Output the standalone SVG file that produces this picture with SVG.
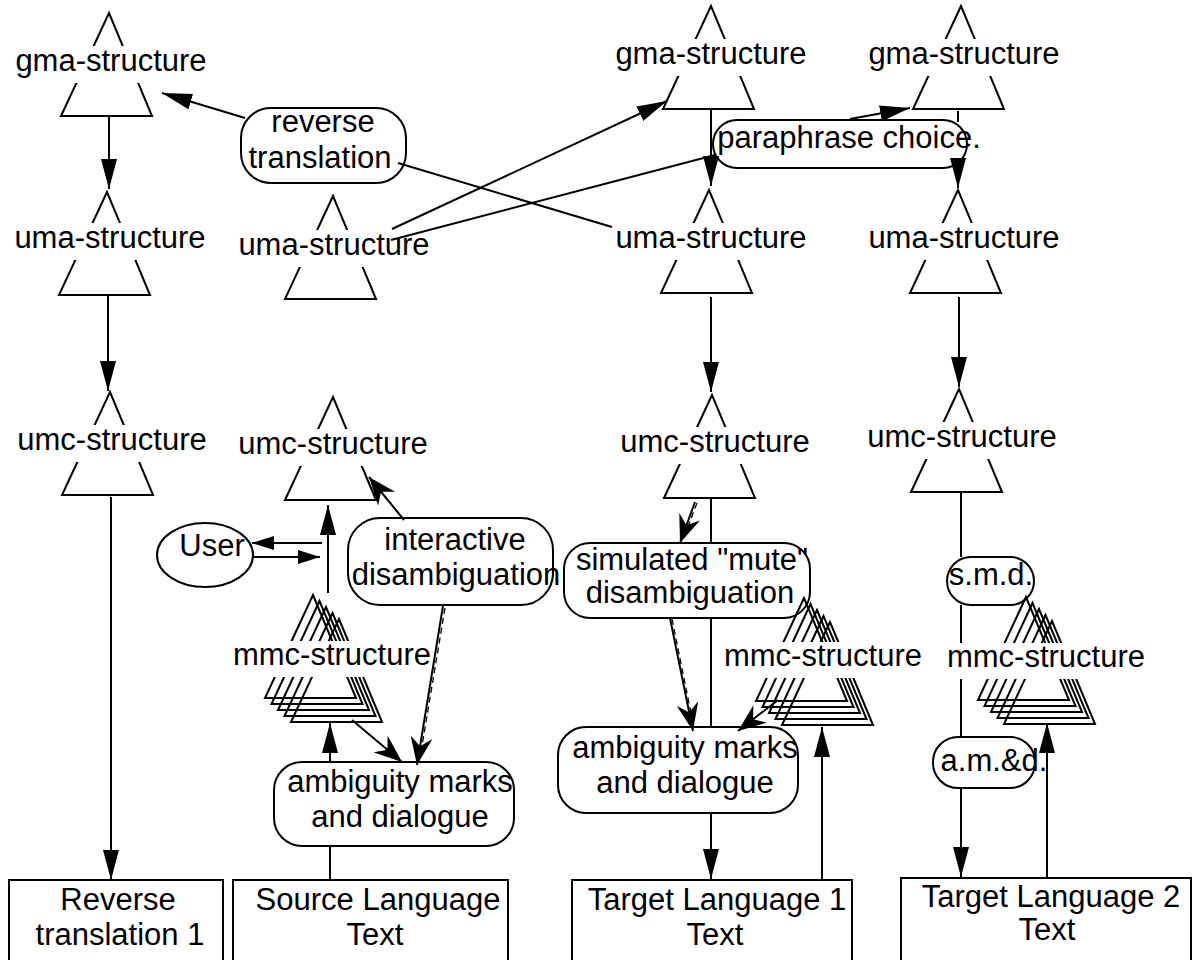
<svg xmlns="http://www.w3.org/2000/svg" xmlns:xlink="http://www.w3.org/1999/xlink" width="1192" height="960" viewBox="0 0 1192 960">
<style>
.s{fill:none;stroke:#000;stroke-width:2}
.c{fill:none;stroke:#000;stroke-width:2}
.d{fill:none;stroke:#000;stroke-width:1.3;stroke-dasharray:6 4}
.ko{fill:#fff}
.box{fill:#fff;stroke:#000;stroke-width:2}
.t{font-family:"Liberation Sans",Arial,sans-serif;font-size:31px;text-anchor:middle;fill:#000}
</style>
<defs>
<path id="tri" d="M0,0 L-48,103 L43,103 Z" class="s"/>
<marker id="ah" markerUnits="userSpaceOnUse" markerWidth="32" markerHeight="16" refX="30" refY="8" orient="auto"><path d="M0,0 L30,8 L0,16 Z" fill="#000"/></marker>
<marker id="ahs" markerUnits="userSpaceOnUse" markerWidth="24" markerHeight="14" refX="22" refY="7" orient="auto"><path d="M0,0 L22,7 L0,14 Z" fill="#000"/></marker>
<marker id="bh" markerUnits="userSpaceOnUse" markerWidth="30" markerHeight="22" refX="28" refY="11" orient="auto"><path d="M0,0 L28,11 L0,22 L9,11 Z" fill="#000"/></marker>
</defs>
<rect x="0" y="0" width="1192" height="960" fill="#fff"/>

<!-- column 1 -->
<g id="gma1"><use xlink:href="#tri" x="109" y="13"/><rect class="ko" x="13" y="46" width="196" height="37"/><text class="t" x="111" y="71">gma-structure</text></g>
<g id="uma1"><use xlink:href="#tri" x="107" y="192"/><rect class="ko" x="12" y="223" width="196" height="37"/><text class="t" x="110" y="248">uma-structure</text></g>
<g id="umc1"><use xlink:href="#tri" x="110" y="392"/><rect class="ko" x="15" y="425" width="194" height="37"/><text class="t" x="112" y="450">umc-structure</text></g>
<g id="rev1"><rect class="box" x="9" y="880" width="214" height="90"/><text class="t" x="118" y="910">Reverse</text><text class="t" x="120" y="945">translation 1</text></g>

<!-- column 2 -->
<g id="revlabel"><rect class="box" x="241" y="108" width="165" height="75" rx="30" ry="30"/><text class="t" x="323" y="132">reverse</text><text class="t" x="320" y="168">translation</text></g>
<g id="uma2"><use xlink:href="#tri" x="333" y="196"/><rect class="ko" x="236" y="230" width="196" height="37"/><text class="t" x="334" y="255">uma-structure</text></g>
<g id="umc2"><use xlink:href="#tri" x="333" y="397"/><rect class="ko" x="236" y="429" width="194" height="37"/><text class="t" x="333" y="454">umc-structure</text></g>
<g id="user"><ellipse class="box" cx="205" cy="555" rx="48" ry="32"/><text class="t" x="212" y="556">User</text></g>
<g id="interactive"><rect class="box" x="348" y="518" width="205" height="87" rx="32" ry="32"/><text class="t" x="455" y="550">interactive</text><text class="t" x="456" y="585">disambiguation</text></g>
<g id="mmc2"><use xlink:href="#tri" x="313" y="595"/><use xlink:href="#tri" x="319.5" y="601"/><use xlink:href="#tri" x="326" y="607"/><use xlink:href="#tri" x="332.5" y="613"/><use xlink:href="#tri" x="339" y="619"/><rect class="ko" x="231" y="641" width="203" height="36"/><text class="t" x="332" y="665">mmc-structure</text></g>
<g id="amb2"><rect class="box" x="274" y="762" width="240" height="84" rx="28" ry="28"/><text class="t" x="400" y="792">ambiguity marks</text><text class="t" x="400" y="827">and dialogue</text></g>
<g id="source"><rect class="box" x="233" y="880" width="275" height="90"/><text class="t" x="378" y="910">Source Language</text><text class="t" x="375" y="945">Text</text></g>

<!-- column 3 -->
<g id="gma3"><use xlink:href="#tri" x="711" y="6"/><rect class="ko" x="613" y="39" width="196" height="37"/><text class="t" x="711" y="64">gma-structure</text></g>
<g id="paraphrase"><rect class="box" x="713" y="120" width="254" height="48" rx="24" ry="24"/><text class="t" x="849" y="148">paraphrase choice.</text></g>
<g id="uma3"><use xlink:href="#tri" x="709" y="190"/><rect class="ko" x="613" y="223" width="196" height="37"/><text class="t" x="711" y="248">uma-structure</text></g>
<g id="umc3"><use xlink:href="#tri" x="712" y="395"/><rect class="ko" x="618" y="427" width="194" height="37"/><text class="t" x="715" y="452">umc-structure</text></g>
<g id="simulated"><rect class="box" x="564" y="543" width="246" height="75" rx="26" ry="26"/><text class="t" x="692" y="570">simulated "mute"</text><text class="t" x="690" y="603">disambiguation</text></g>
<g id="mmc3"><use xlink:href="#tri" x="804" y="598"/><use xlink:href="#tri" x="810.5" y="604"/><use xlink:href="#tri" x="817" y="610"/><use xlink:href="#tri" x="823.5" y="616"/><use xlink:href="#tri" x="830" y="622"/><rect class="ko" x="721" y="642" width="203" height="36"/><text class="t" x="823" y="666">mmc-structure</text></g>
<g id="amb3"><rect class="box" x="558" y="727" width="240" height="86" rx="28" ry="28"/><text class="t" x="685" y="758">ambiguity marks</text><text class="t" x="685" y="793">and dialogue</text></g>
<g id="target1"><rect class="box" x="572" y="880" width="280" height="90"/><text class="t" x="717" y="910">Target Language 1</text><text class="t" x="715" y="945">Text</text></g>

<!-- column 4 -->
<g id="gma4"><use xlink:href="#tri" x="961" y="6"/><rect class="ko" x="866" y="39" width="196" height="37"/><text class="t" x="964" y="64">gma-structure</text></g>
<g id="uma4"><use xlink:href="#tri" x="958" y="190"/><rect class="ko" x="866" y="223" width="196" height="37"/><text class="t" x="964" y="248">uma-structure</text></g>
<g id="umc4"><use xlink:href="#tri" x="959" y="389"/><rect class="ko" x="865" y="422" width="194" height="37"/><text class="t" x="962" y="447">umc-structure</text></g>
<g id="smd"><rect class="box" x="947" y="557" width="87" height="48" rx="24" ry="24"/><text class="t" x="991" y="585">s.m.d.</text></g>
<g id="mmc4"><use xlink:href="#tri" x="1026" y="597"/><use xlink:href="#tri" x="1032.5" y="603"/><use xlink:href="#tri" x="1039" y="609"/><use xlink:href="#tri" x="1045.5" y="615"/><use xlink:href="#tri" x="1052" y="621"/><rect class="ko" x="945" y="643" width="203" height="36"/><text class="t" x="1046" y="667">mmc-structure</text></g>
<g id="amd"><rect class="box" x="933" y="737" width="102" height="51" rx="25" ry="25"/><text class="t" x="994" y="771">a.m.&amp;d.</text></g>
<g id="target2"><rect class="box" x="901" y="878" width="290" height="92"/><text class="t" x="1051" y="907">Target Language 2</text><text class="t" x="1047" y="940">Text</text></g>

<g id="connectors">
<!-- column 1 -->
<line class="c" x1="109" y1="117" x2="109" y2="189" marker-end="url(#ah)"/>
<line class="c" x1="108" y1="296" x2="108" y2="391" marker-end="url(#ah)"/>
<line class="c" x1="111" y1="497" x2="111" y2="880" marker-end="url(#ah)"/>
<!-- reverse translation -->
<line class="c" x1="612" y1="227" x2="398" y2="163"/>
<line class="c" x1="245" y1="118" x2="162" y2="93" marker-end="url(#ah)"/>
<!-- uma2 to gma3 / paraphrase -->
<line class="c" x1="392" y1="229" x2="667" y2="101" marker-end="url(#ah)"/>
<line class="c" x1="391" y1="240" x2="715" y2="155"/>
<line class="c" x1="850" y1="119" x2="910" y2="108" marker-end="url(#ah)"/>
<!-- column 3 top -->
<line class="c" x1="711" y1="110" x2="711" y2="186" marker-end="url(#ah)"/>
<line class="c" x1="711" y1="297" x2="711" y2="392" marker-end="url(#ah)"/>
<!-- column 4 top -->
<line class="c" x1="958" y1="111" x2="958" y2="122"/>
<line class="c" x1="958" y1="158" x2="958" y2="188" marker-end="url(#ah)"/>
<line class="c" x1="959" y1="297" x2="959" y2="387" marker-end="url(#ah)"/>
<!-- column 2 lower -->
<line class="c" x1="328" y1="593" x2="328" y2="505" marker-end="url(#ah)"/>
<line class="c" x1="322" y1="543" x2="252" y2="543" marker-end="url(#ahs)"/>
<line class="c" x1="253" y1="557" x2="320" y2="557" marker-end="url(#ahs)"/>
<line class="c" x1="404" y1="520" x2="369" y2="477" marker-end="url(#bh)"/>
<line class="c" x1="443" y1="606" x2="417" y2="765" marker-end="url(#bh)"/>
<line class="d" x1="445" y1="608" x2="421" y2="752"/>
<line class="c" x1="352" y1="720" x2="402" y2="762" marker-end="url(#bh)"/>
<line class="c" x1="330" y1="762" x2="330" y2="723" marker-end="url(#ah)"/>
<line class="c" x1="330" y1="846" x2="330" y2="879"/>
<!-- column 3 lower -->
<line class="c" x1="711" y1="499" x2="711" y2="543"/>
<line class="c" x1="711" y1="618" x2="711" y2="727"/>
<line class="c" x1="711" y1="813" x2="711" y2="879" marker-end="url(#ah)"/>
<line class="c" x1="695" y1="502" x2="680" y2="543" marker-end="url(#bh)"/>
<line class="d" x1="697" y1="503" x2="686" y2="532"/>
<line class="c" x1="670" y1="618" x2="693" y2="731" marker-end="url(#bh)"/>
<line class="d" x1="672" y1="619" x2="692" y2="718"/>
<line class="c" x1="778" y1="700" x2="738" y2="731" marker-end="url(#bh)"/>
<line class="c" x1="822" y1="879" x2="822" y2="727" marker-end="url(#ah)"/>
<!-- column 4 lower -->
<line class="c" x1="961" y1="493" x2="961" y2="557"/>
<line class="c" x1="961" y1="605" x2="961" y2="643"/>
<line class="c" x1="961" y1="679" x2="961" y2="737"/>
<line class="c" x1="961" y1="788" x2="961" y2="877" marker-end="url(#ah)"/>
<line class="c" x1="1047" y1="877" x2="1047" y2="723" marker-end="url(#ah)"/>
</g>
</svg>
